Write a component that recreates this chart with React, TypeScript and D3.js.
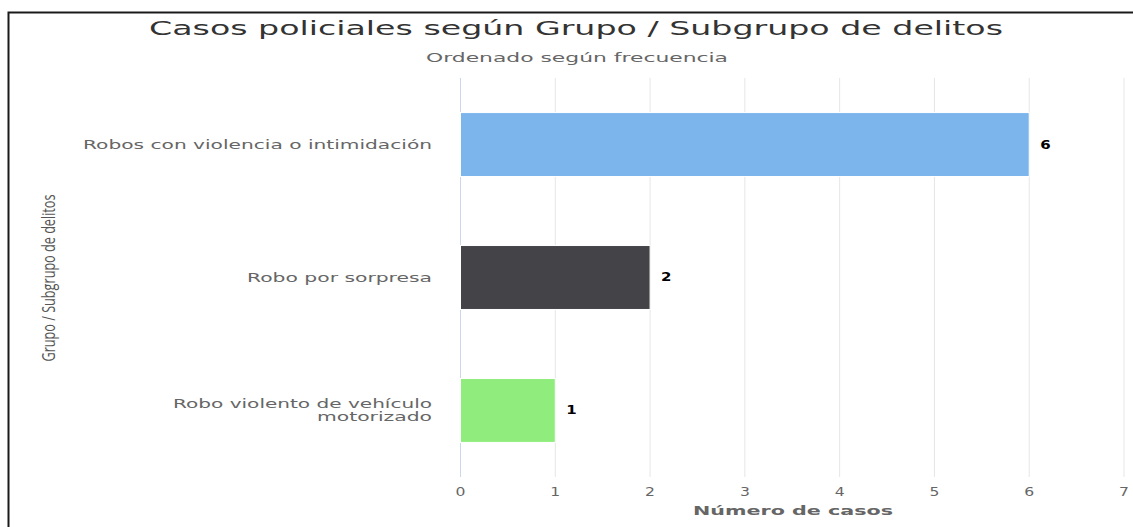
import React from "react";
import * as d3 from "d3";

const categories = [
  "Robos con violencia o intimidación",
  "Robo por sorpresa",
  "Robo violento de vehículo motorizado",
];
const categoryLines = [
  ["Robos con violencia o intimidación"],
  ["Robo por sorpresa"],
  ["Robo violento de vehículo", "motorizado"],
];
const categoryLineWidths = [[349], [185], [259, 115]];
const values = [6, 2, 1];
const colors = ["#7cb5ec", "#434348", "#90ed7d"];
const xTicks = [0, 1, 2, 3, 4, 5, 6, 7];

const titleText = "Casos policiales según Grupo / Subgrupo de delitos";
const subtitleText = "Ordenado según frecuencia";
const xTitle = "Número de casos";
const yTitle = "Grupo / Subgrupo de delitos";

const W = 1133;
const H = 527;
const FONT = "'DejaVu Sans', Verdana, sans-serif";

export default function App() {
  const x = d3.scaleLinear().domain([0, 7]).range([460.5, 1124]);
  const y = d3
    .scaleBand<string>()
    .domain(categories)
    .range([78, 477])
    .paddingInner(0.519)
    .paddingOuter(0.26);
  const plotTop = 78;
  const plotBottom = 477;

  return (
    <svg
      width={W}
      height={H}
      style={{ position: "fixed", top: 0, left: 0, background: "#fff" }}
    >
      <rect x={0} y={0} width={W} height={H} fill="#fff" />
      {/* frame */}
      <path d={`M8.5,${H} L8.5,12.5 L${W},12.5`} fill="none" stroke="#1a1a1a" strokeWidth={2} />

      {/* title */}
      <text
        x={576}
        y={35}
        textAnchor="middle"
        fontFamily={FONT}
        fontSize={20}
        fill="#333"
        textLength={854}
        lengthAdjust="spacingAndGlyphs"
      >
        {titleText}
      </text>
      <text
        x={577}
        y={62}
        textAnchor="middle"
        fontFamily={FONT}
        fontSize={13}
        fill="#666"
        textLength={302}
        lengthAdjust="spacingAndGlyphs"
      >
        {subtitleText}
      </text>

      {/* grid */}
      {xTicks.map((t) => (
        <line
          key={"g" + t}
          x1={x(t)}
          x2={x(t)}
          y1={plotTop}
          y2={plotBottom}
          stroke={t === 0 ? "#ccd6eb" : "#e6e6e6"}
          strokeWidth={1}
        />
      ))}

      {/* bars */}
      {categories.map((c, i) => (
        <rect
          key={c}
          x={x(0)}
          y={y(c)!}
          width={x(values[i]) - x(0)}
          height={y.bandwidth()}
          fill={colors[i]}
          stroke="#fff"
          strokeWidth={1}
        />
      ))}

      {/* value labels */}
      {categories.map((c, i) => (
        <text
          key={"v" + c}
          x={x(values[i]) + 11}
          y={y(c)! + y.bandwidth() / 2 + 4}
          fontFamily={FONT}
          fontSize={12}
          fontWeight="bold"
          fill="#000"
          transform={`translate(${x(values[i]) + 11},0) scale(1.25,1) translate(${-(x(values[i]) + 11)},0)`}
        >
          {values[i]}
        </text>
      ))}

      {/* category labels */}
      {categories.map((c, i) => {
        const lines = categoryLines[i];
        const cy = y(c)! + y.bandwidth() / 2;
        const lh = 13;
        const start = cy + 4 - ((lines.length - 1) * lh) / 2;
        return (
          <g key={"c" + c}>
            {lines.map((l, j) => (
              <text
                key={j}
                x={432 - categoryLineWidths[i][j]}
                y={start + j * lh}
                fontFamily={FONT}
                fontSize={12.5}
                fill="#666"
                textLength={categoryLineWidths[i][j]}
                lengthAdjust="spacingAndGlyphs"
              >
                {l}
              </text>
            ))}
          </g>
        );
      })}

      {/* x tick labels */}
      {xTicks.map((t) => (
        <text
          key={"t" + t}
          x={x(t)}
          y={496}
          textAnchor="middle"
          fontFamily={FONT}
          fontSize={12}
          fill="#666"
          transform={`translate(${x(t)},0) scale(1.3,1) translate(${-x(t)},0)`}
        >
          {t}
        </text>
      ))}

      {/* axis titles */}
      <text
        x={793}
        y={515}
        textAnchor="middle"
        fontFamily={FONT}
        fontSize={13}
        fontWeight="bold"
        fill="#666"
        textLength={200}
        lengthAdjust="spacingAndGlyphs"
      >
        {xTitle}
      </text>
      <text
        transform="translate(55,278) rotate(-90)"
        textAnchor="middle"
        fontFamily="'Liberation Sans Narrow', 'Open Sans', sans-serif"
        fontSize={18.5}
        fill="#555"
        textLength={167}
        lengthAdjust="spacingAndGlyphs"
      >
        {yTitle}
      </text>
    </svg>
  );
}
